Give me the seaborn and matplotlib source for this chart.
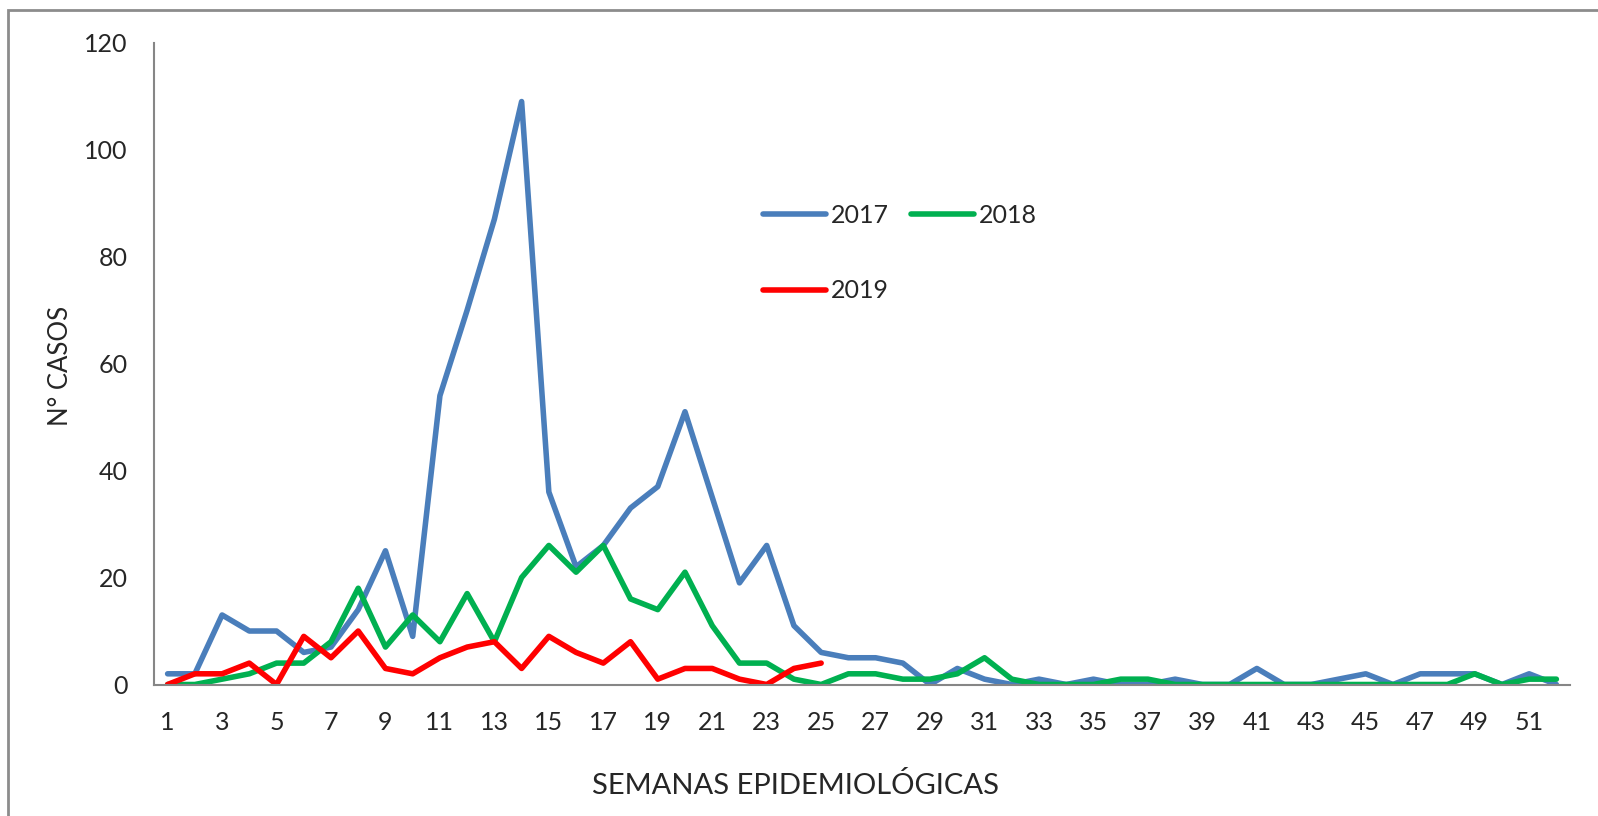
import pandas as pd
import matplotlib.pyplot as plt
import seaborn as sns
from matplotlib.patches import Rectangle

# Casos por semana epidemiológica
semanas = list(range(1, 53))
casos_2017 = [2, 2, 13, 10, 10, 6, 7, 14, 25, 9, 54, 70, 87, 109, 36, 22, 26, 33, 37, 51,
              35, 19, 26, 11, 6, 5, 5, 4, 0, 3, 1, 0, 1, 0, 1, 0, 0, 1, 0, 0,
              3, 0, 0, 1, 2, 0, 2, 2, 2, 0, 2, 0]
casos_2018 = [0, 0, 1, 2, 4, 4, 8, 18, 7, 13, 8, 17, 8, 20, 26, 21, 26, 16, 14, 21,
              11, 4, 4, 1, 0, 2, 2, 1, 1, 2, 5, 1, 0, 0, 0, 1, 1, 0, 0, 0,
              0, 0, 0, 0, 0, 0, 0, 0, 2, 0, 1, 1]
casos_2019 = [0, 2, 2, 4, 0, 9, 5, 10, 3, 2, 5, 7, 8, 3, 9, 6, 4, 8, 1, 3,
              3, 1, 0, 3, 4]

anos = ['2017', '2018', '2019']
cores = {'2017': '#4A7EBB', '2018': '#00B050', '2019': '#FF0000'}

df = pd.concat([
    pd.DataFrame({'semana': semanas, 'casos': casos_2017, 'ano': '2017'}),
    pd.DataFrame({'semana': semanas, 'casos': casos_2018, 'ano': '2018'}),
    pd.DataFrame({'semana': semanas[:len(casos_2019)], 'casos': casos_2019, 'ano': '2019'}),
])

sns.set_style('white')
plt.rcParams['font.family'] = ['Lato', 'DejaVu Sans']

fig = plt.figure(figsize=(15.98, 8.16), dpi=100)
ax = fig.add_axes([154 / 1598, 1 - 684.5 / 816, (1570 - 154) / 1598, (684.5 - 42.7) / 816])

sns.lineplot(data=df, x='semana', y='casos', hue='ano', hue_order=anos, palette=cores,
             linewidth=4, solid_capstyle='round', ax=ax)

ax.set_xlim(0.5, 52.5)
ax.set_ylim(0, 120)
ax.set_xticks(list(range(1, 53, 2)))
ax.set_yticks(list(range(0, 121, 20)))
ax.tick_params(axis='both', length=0, labelsize=18, pad=19)
ax.set_xlabel('SEMANAS EPIDEMIOLÓGICAS', fontsize=21)
ax.set_ylabel('N° CASOS', fontsize=18.5)
ax.xaxis.set_label_coords(796 / 1598, 1 - 772 / 816, transform=fig.transFigure)
ax.yaxis.set_label_coords(73 / 1598, 1 - 366 / 816, transform=fig.transFigure)

for lado in ['top', 'right']:
    ax.spines[lado].set_visible(False)
for lado in ['left', 'bottom']:
    ax.spines[lado].set_color('#868686')
    ax.spines[lado].set_linewidth(1.5)

# legenda em linhas: 2017, 2018 / 2019
handles, labels = ax.get_legend_handles_labels()
ordem = [labels.index(a) for a in ['2017', '2019', '2018']]
leg = ax.legend([handles[i] for i in ordem], [labels[i] for i in ordem], ncol=2,
                frameon=False, fontsize=18, handlelength=2.5, handletextpad=0.2,
                columnspacing=0.9, labelspacing=2.1, borderpad=0, borderaxespad=0,
                loc='upper left', bbox_to_anchor=(763 / 1598, 1 - 204 / 816),
                bbox_transform=fig.transFigure)
for linha in leg.get_lines():
    linha.set_linewidth(4)
    linha.set_solid_capstyle('round')

# moldura do gráfico
fig.patches.append(Rectangle((8 / 1598, -0.1), 1.2, 1 - 10 / 816 + 0.1, transform=fig.transFigure,
                             fill=False, edgecolor='#8C8C8C', linewidth=2))

fig.savefig('out.png', dpi=100)
